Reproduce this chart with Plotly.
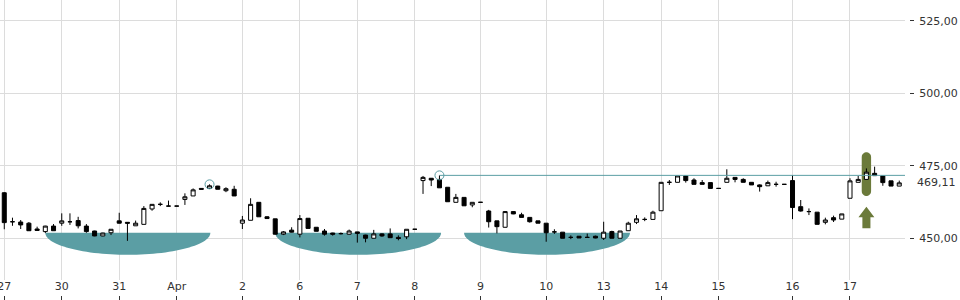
import math
import plotly.graph_objects as go

# ---------------- data ----------------
day_labels = ["27", "30", "31", "Apr", "2", "6", "7", "8", "9", "10", "13", "14", "15", "16", "17"]
day_start = [0, 7, 14, 21, 29, 36, 43, 50, 58, 66, 73, 80, 87, 96, 103]

opens = [465.7, 455.7, 455.6, 455.2, 453.2, 452.3, 454.2, 455.2, 455.7, 456.1,
         454.2, 452.5, 450.8, 451.9, 456.0, 455.5, 454.3, 454.8, 460.1, 461.7,
         461.1, 461.1, 463.4, 464.6, 467.2, 467.2, 468.0, 466.4, 466.9, 455.2,
         456.2, 462.4, 457.4, 456.7, 451.4, 452.8, 451.4, 456.9, 453.8, 452.5,
         451.8, 451.6, 451.4, 452.2, 451.1, 450.0, 451.5, 451.5, 450.3, 450.5,
         453.1, 469.9, 470.7, 470.3, 467.6, 462.4, 464.1, 461.5, 462.4, 459.4,
         456.0, 453.8, 459.2, 458.1, 457.2, 456.0, 455.2, 452.2, 452.1, 450.3,
         450.7, 450.3, 450.7, 450.0, 452.3, 450.0, 452.6, 455.5, 456.5, 456.5,
         459.5, 469.3, 469.3, 471.5, 470.1, 469.2, 469.2, 467.2, 469.3, 471.0,
         470.3, 469.3, 468.4, 468.1, 468.6, 468.6, 469.9, 460.9, 459.2, 459.0,
         455.5, 457.1, 456.6, 463.8, 469.3, 470.3, 472.4, 471.5, 469.8, 468.0]
highs = [465.9, 457.1, 456.3, 455.6, 454.0, 454.3, 454.9, 458.6, 458.6, 457.4,
         454.9, 452.6, 451.9, 453.1, 458.8, 455.6, 456.1, 461.1, 461.8, 462.4,
         463.0, 461.1, 465.5, 467.2, 467.2, 468.6, 468.1, 467.6, 468.1, 457.7,
         463.8, 462.4, 457.6, 456.7, 452.5, 453.8, 458.0, 456.9, 453.8, 453.2,
         451.9, 452.0, 453.0, 452.2, 451.2, 452.9, 451.7, 453.4, 451.0, 453.1,
         453.1, 471.5, 470.7, 471.7, 467.6, 465.3, 464.2, 462.4, 462.4, 459.8,
         456.0, 459.4, 459.4, 458.8, 457.2, 456.0, 455.2, 453.1, 452.1, 451.0,
         450.7, 451.6, 450.9, 455.7, 452.6, 452.5, 455.7, 458.0, 457.2, 459.5,
         469.4, 470.1, 471.5, 471.5, 470.7, 470.1, 469.2, 467.2, 473.8, 471.0,
         470.7, 469.3, 468.6, 469.9, 469.5, 468.6, 471.8, 463.2, 460.3, 459.0,
         457.1, 457.8, 458.4, 470.7, 471.5, 474.1, 474.7, 471.5, 469.8, 469.9]
lows = [453.1, 454.3, 453.2, 452.6, 452.7, 451.8, 452.6, 454.3, 454.6, 453.4,
        451.9, 450.7, 450.7, 451.1, 455.1, 449.1, 454.3, 454.8, 459.5, 461.1,
        461.1, 461.1, 461.5, 464.6, 466.9, 467.2, 466.9, 465.9, 464.6, 453.2,
        456.2, 457.4, 456.7, 451.3, 451.1, 452.0, 450.3, 453.4, 452.4, 450.9,
        450.9, 451.3, 451.3, 448.5, 448.6, 450.0, 450.5, 450.2, 449.3, 449.7,
        453.1, 465.3, 468.0, 467.4, 462.6, 462.4, 461.2, 460.7, 462.4, 453.7,
        451.7, 453.7, 458.3, 457.2, 455.4, 455.2, 448.8, 451.5, 450.0, 449.7,
        450.1, 450.3, 450.0, 449.4, 450.0, 450.0, 452.6, 454.9, 455.9, 456.5,
        459.5, 468.4, 469.3, 469.2, 468.6, 468.6, 467.2, 467.2, 469.3, 469.3,
        469.3, 468.4, 466.1, 468.1, 467.8, 468.6, 456.6, 459.2, 458.0, 454.8,
        454.8, 455.6, 456.6, 463.8, 469.3, 470.3, 471.5, 468.1, 468.0, 468.0]
closes = [455.4, 455.7, 454.6, 452.6, 452.7, 454.2, 452.6, 456.0, 455.7, 454.3,
          452.3, 450.8, 451.8, 453.1, 455.2, 455.2, 455.2, 460.3, 461.7, 461.7,
          461.1, 461.1, 464.3, 466.7, 466.9, 468.1, 466.9, 467.1, 464.6, 456.3,
          461.7, 457.4, 456.8, 451.4, 452.2, 452.1, 456.8, 453.4, 452.4, 451.4,
          451.4, 451.6, 452.5, 451.7, 450.0, 451.5, 450.8, 450.2, 449.9, 453.1,
          453.1, 471.0, 470.1, 467.4, 462.6, 464.1, 461.2, 462.4, 462.4, 455.7,
          454.0, 459.2, 458.4, 457.2, 455.7, 455.2, 451.9, 452.2, 450.0, 450.3,
          450.1, 450.3, 450.1, 452.1, 450.0, 452.5, 455.2, 456.7, 456.5, 459.0,
          469.3, 469.3, 471.5, 469.9, 468.6, 468.6, 467.2, 467.2, 470.7, 470.3,
          469.3, 468.4, 467.8, 469.2, 468.6, 468.6, 460.6, 459.4, 459.2, 454.8,
          456.3, 456.3, 458.4, 469.8, 470.3, 472.8, 471.6, 469.2, 468.0, 469.11]

y_ticks = [450, 475, 500, 525]
last_price = 469.11

# chart-pattern markers (bar indices)
saucer_start = [5.0, 33.0, 56.0]
saucer_end = [25.1, 53.2, 76.2]
saucer_top = 451.9
saucer_depth = 7.6
circle_bars = [25, 53]
resistance_bar = 53
signal_bar = 105

TEAL = "#5b9ea4"
OLIVE = "#6b7a3a"
GRID = "#dcdcdc"
TXT = "#333333"

bars = list(range(len(opens)))
X_RANGE = [-0.52, 109.7]
Y_RANGE = [435.6, 532.2]

fig = go.Figure()
fig.add_trace(go.Candlestick(
    x=bars, open=opens, high=highs, low=lows, close=closes,
    increasing=dict(line=dict(color="black", width=1), fillcolor="white"),
    decreasing=dict(line=dict(color="black", width=1), fillcolor="black"),
    whiskerwidth=0, showlegend=False, hoverinfo="skip"))

fig.add_trace(go.Scatter(
    x=circle_bars, y=[highs[i] for i in circle_bars], mode="markers",
    marker=dict(symbol="circle-open", size=9, color=TEAL, line=dict(width=1, color=TEAL)),
    showlegend=False, hoverinfo="skip"))

# dummy trace so that the bottom tick-mark axis is drawn
fig.add_trace(go.Scatter(x=[day_start[0]], y=[None], xaxis="x2", yaxis="y",
                         mode="markers", showlegend=False, hoverinfo="skip"))

shapes = []
# saucers (half ellipses)
for x0, x1 in zip(saucer_start, saucer_end):
    cx = (x0 + x1) / 2
    a = (x1 - x0) / 2
    pts = [(x0, saucer_top), (x1, saucer_top)]
    n = 60
    for k in range(n + 1):
        th = math.pi * k / n
        pts.append((cx + a * math.cos(th), saucer_top - saucer_depth * math.sin(th)))
    path = "M " + " L ".join(f"{px:.4f},{py:.4f}" for px, py in pts) + " Z"
    shapes.append(dict(type="path", path=path, xref="x", yref="y",
                       fillcolor=TEAL, line=dict(width=0), layer="between"))

# resistance line
shapes.append(dict(type="line", xref="x", yref="y", x0=resistance_bar, x1=X_RANGE[1],
                   y0=highs[resistance_bar], y1=highs[resistance_bar],
                   line=dict(color=TEAL, width=1), layer="above"))

# capsule highlighting the signal bar
cx = signal_bar
w = 0.57
ry = 1.62
top, bot = 479.66, 464.59
pts = [(cx - w, bot + ry), (cx - w, top - ry)]
n = 20
for k in range(n + 1):
    th = math.pi - math.pi * k / n
    pts.append((cx + w * math.cos(th), top - ry + ry * math.sin(th)))
pts.append((cx + w, bot + ry))
for k in range(n + 1):
    th = -math.pi * k / n
    pts.append((cx + w * math.cos(th), bot + ry + ry * math.sin(th)))
path = "M " + " L ".join(f"{px:.4f},{py:.4f}" for px, py in pts) + " Z"
shapes.append(dict(type="path", path=path, xref="x", yref="y",
                   fillcolor=OLIVE, line=dict(width=0), layer="between"))

# up arrow
tip, base, tail = 460.9, 457.24, 453.45
hw, sw = 0.97, 0.49
apts = [(cx, tip), (cx + hw, base), (cx + sw, base), (cx + sw, tail),
        (cx - sw, tail), (cx - sw, base), (cx - hw, base)]
path = "M " + " L ".join(f"{px:.4f},{py:.4f}" for px, py in apts) + " Z"
shapes.append(dict(type="path", path=path, xref="x", yref="y",
                   fillcolor=OLIVE, line=dict(width=0), layer="between"))

fig.update_layout(
    width=960, height=300,
    margin=dict(l=0, r=51, t=0, b=0, pad=0),
    paper_bgcolor="white", plot_bgcolor="white",
    separators=",.",
    showlegend=False,
    font=dict(family="DejaVu Sans", size=11, color=TXT),
    shapes=shapes,
    xaxis=dict(
        domain=[0, 905 / 909], range=X_RANGE, anchor="y",
        tickmode="array", tickvals=day_start, ticktext=day_labels,
        ticks="", ticklabelstandoff=-2, ticklabeloverflow="allow", automargin=False,
        showgrid=True, gridcolor=GRID, gridwidth=1,
        showline=False, zeroline=False,
        rangeslider=dict(visible=False), fixedrange=True),
    xaxis2=dict(
        domain=[0, 905 / 909], range=X_RANGE, matches="x", overlaying="x",
        anchor="free", position=0, side="bottom",
        tickmode="array", tickvals=day_start, ticks="inside", ticklen=4,
        tickcolor=TXT, showticklabels=False, showgrid=False, zeroline=False,
        showline=False, automargin=False, fixedrange=True),
    yaxis=dict(
        domain=[20 / 300, 1], range=Y_RANGE, side="right", anchor="free", position=1,
        tickmode="array", tickvals=y_ticks, tickformat=".2f",
        ticks="outside", ticklen=4, tickcolor=TXT, ticklabelstandoff=3,
        showgrid=True, gridcolor=GRID, gridwidth=1, automargin=False,
        zeroline=False, showline=False, fixedrange=True),
    annotations=[dict(
        x=1, xref="paper", y=last_price, yref="y", text="469,11",
        xanchor="left", yanchor="middle", xshift=6, showarrow=False,
        font=dict(family="DejaVu Sans", size=11, color=TXT))],
)

fig.write_html("out.html")
